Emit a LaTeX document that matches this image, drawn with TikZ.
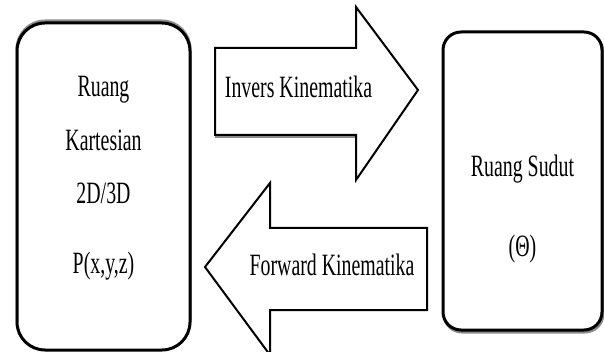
\documentclass[tikz,border=0pt]{standalone}
\usepackage{fontspec}
\setmainfont{Liberation Serif}[FakeStretch=0.64]
\begin{document}
\begin{tikzpicture}[x=1pt,y=-1pt,
  box/.style={draw=black, line width=3pt, fill=white, inner sep=0pt},
  shadowbox/.style={draw=black!45, line width=3pt, inner sep=0pt},
  arr/.style={draw=black, line width=2pt, fill=white, line join=miter},
  lbl/.style={font=\fontsize{31}{34}\selectfont, text=black, inner sep=0pt, anchor=base}]
\clip (0,0) rectangle (604,352);
\fill[white] (0,0) rectangle (604,352);
% left box (Cartesian space)
\node[shadowbox, rounded corners=28pt, minimum width=173pt, minimum height=327pt] (cartshadow) at (103.5,184.5) {};
\node[box, rounded corners=28pt, minimum width=173pt, minimum height=327pt] (cart) at (103.5,186.5) {};
% right box (joint space)
\node[shadowbox, rounded corners=18pt, minimum width=159pt, minimum height=298pt] (sudutshadow) at (523.5,183) {};
\node[box, rounded corners=18pt, minimum width=159pt, minimum height=298pt] (sudut) at (522.5,181) {};
% arrows
\draw[draw=black!45, line width=2pt] (215,50) -- (356,50) (215,137) -- (356,137);
\draw[arr] (215,48) -- (356,48) -- (356,7) -- (418,90) -- (356,180) -- (356,135) -- (215,135) -- cycle;
\draw[arr] (427,228) -- (270,228) -- (270,183) -- (205,267) -- (270,355) -- (270,310) -- (427,310) -- cycle;
% labels
\node[lbl] (r1) at (103.5,97) {Ruang};
\node[lbl] (r2) at (103.5,151) {Kartesian};
\node[lbl] (r3) at (103.5,204) {2D/3D};
\node[lbl] (r4) at (103.5,273) {P(x,y,z)};
\node[lbl] (s1) at (522.5,177) {Ruang Sudut};
\node[lbl] (s2) at (522.5,257) {(Θ)};
\node[lbl] (inv) at (298.5,98) {Invers Kinematika};
\node[lbl] (fwd) at (332,276) {Forward Kinematika};
\end{tikzpicture}
\end{document}
